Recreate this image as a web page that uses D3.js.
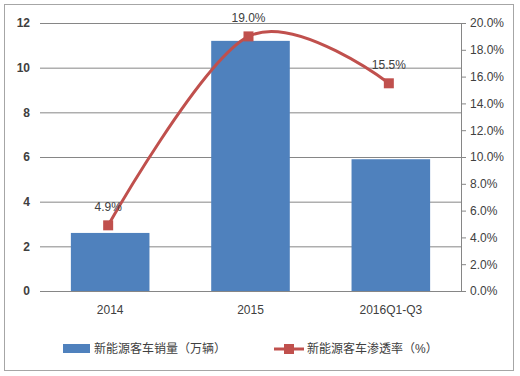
<!DOCTYPE html>
<html>
<head>
<meta charset="utf-8">
<script src="https://cdn.jsdelivr.net/npm/d3@7"></script>
<style>
  body { margin: 0; background: #fff; }
  text { font-family: "Liberation Sans", "Noto Sans CJK SC", sans-serif; fill: #404040; }
</style>
</head>
<body>
<svg id="chart" width="520" height="376"></svg>
<script>
const categories = ['2014', '2015', '2016Q1-Q3'];
const sales = [2.6, 11.2, 5.9];          // 新能源客车销量（万辆）
const penetration = [4.9, 19.0, 15.5];   // 新能源客车渗透率（%）
const leftTicks = [0, 2, 4, 6, 8, 10, 12];
const rightTicks = [0, 2, 4, 6, 8, 10, 12, 14, 16, 18, 20];
const salesName = '新能源客车销量（万辆）';
const rateName = '新能源客车渗透率（%）';

const barColor = '#4f81bd', lineColor = '#c0504d';
const margin = { left: 40, right: 59, top: 23, bottom: 85 };
const width = 520, height = 376;

const svg = d3.select('#chart');

// Outer frame
svg.append('rect')
  .attr('x', 4.5).attr('y', 4.5)
  .attr('width', 509).attr('height', 366)
  .attr('fill', '#fff')
  .attr('stroke', '#a6a6a6');

const x = d3.scaleBand()
  .domain(categories)
  .range([margin.left, width - margin.right])
  .paddingInner(0.44)
  .paddingOuter(0.22);

const yL = d3.scaleLinear().domain([0, 12]).range([height - margin.bottom, margin.top]);
const yR = d3.scaleLinear().domain([0, 20]).range([height - margin.bottom, margin.top]);

// Gridlines + left labels
const left = svg.append('g')
  .attr('transform', `translate(${margin.left},0)`)
  .call(d3.axisLeft(yL).tickValues(leftTicks).tickSize(-(width - margin.left - margin.right)).tickPadding(10));
left.select('.domain').remove();
left.selectAll('.tick line').attr('stroke', '#868686');
left.selectAll('.tick text').attr('font-size', 12).attr('font-weight', 'bold').attr('fill', '#404040');

// Bars
svg.append('g').selectAll('rect')
  .data(sales)
  .enter()
  .append('rect')
  .attr('x', (_, i) => x(categories[i]))
  .attr('width', x.bandwidth())
  .attr('y', d => yL(d))
  .attr('height', d => yL(0) - yL(d))
  .attr('fill', barColor);

// Bottom axis
const bottom = svg.append('g')
  .attr('transform', `translate(0,${yL(0)})`)
  .call(d3.axisBottom(x).tickSize(0).tickPadding(14));
bottom.select('.domain').attr('stroke', '#868686');
bottom.selectAll('.tick text').attr('font-size', 12).attr('fill', '#404040');

// Right axis
const right = svg.append('g')
  .attr('transform', `translate(${width - margin.right},0)`)
  .call(d3.axisRight(yR).tickValues(rightTicks).tickSize(5).tickPadding(4).tickFormat(d => d.toFixed(1) + '%'));
right.select('.domain').attr('stroke', '#868686');
right.selectAll('.tick line').attr('stroke', '#868686');
right.selectAll('.tick text').attr('font-size', 12).attr('fill', '#404040');

// Line
const cx = i => x(categories[i]) + x.bandwidth() / 2 - 2;
const line = d3.line()
  .x((_, i) => cx(i))
  .y(d => yR(d))
  .curve(d3.curveCardinal.tension(0));

svg.append('path')
  .datum(penetration)
  .attr('d', line)
  .attr('fill', 'none')
  .attr('stroke', lineColor)
  .attr('stroke-width', 3);

svg.append('g').selectAll('rect')
  .data(penetration)
  .enter()
  .append('rect')
  .attr('x', (_, i) => cx(i) - 5)
  .attr('y', d => yR(d) - 5)
  .attr('width', 10).attr('height', 10)
  .attr('fill', lineColor);

svg.append('g').selectAll('text')
  .data(penetration)
  .enter()
  .append('text')
  .attr('x', (_, i) => cx(i))
  .attr('y', d => yR(d) - 14)
  .attr('text-anchor', 'middle')
  .attr('font-size', 12)
  .text(d => d.toFixed(1) + '%');

// Legend
const legend = svg.append('g').attr('transform', 'translate(0,349)');
legend.append('rect').attr('x', 63).attr('y', -5).attr('width', 27).attr('height', 9).attr('fill', barColor);
legend.append('text').attr('x', 94).attr('y', 4).attr('font-size', 12).text(salesName);
legend.append('line').attr('x1', 274).attr('x2', 304).attr('y1', 0).attr('y2', 0)
  .attr('stroke', lineColor).attr('stroke-width', 3);
legend.append('rect').attr('x', 284).attr('y', -5).attr('width', 10).attr('height', 10).attr('fill', lineColor);
legend.append('text').attr('x', 307).attr('y', 4).attr('font-size', 12).text(rateName);
</script>
</body>
</html>
